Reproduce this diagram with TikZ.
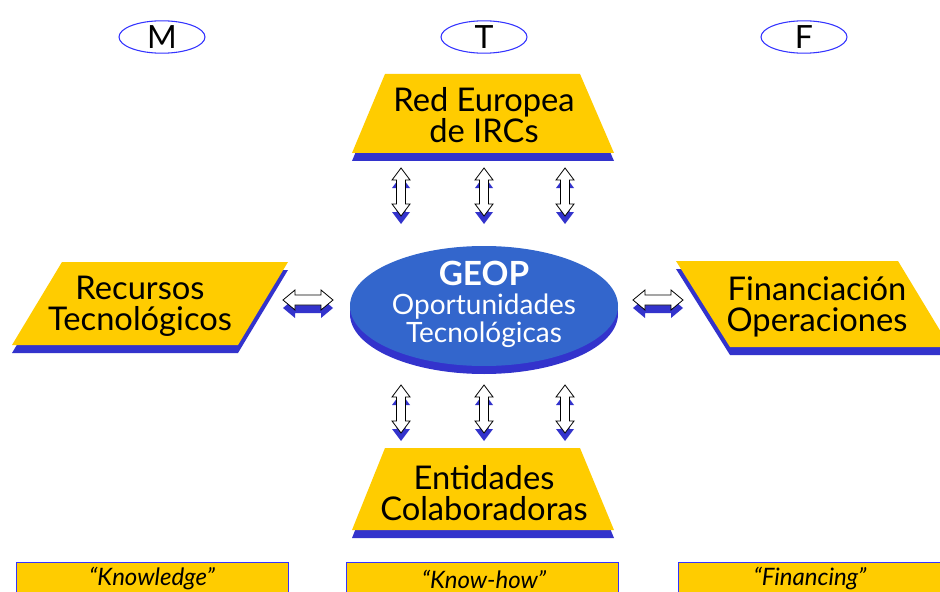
\documentclass[tikz,border=0pt]{standalone}
\usepackage{fontspec}
\setmainfont{Lato}
\usetikzlibrary{shapes.geometric}
\definecolor{geoyellow}{HTML}{FFCC00}
\definecolor{geoshadow}{HTML}{3333CC}
\definecolor{geoell}{HTML}{3366CC}
\definecolor{geooval}{HTML}{3333FF}
\newcommand\geopV[3]{% x, ytop, length
  \fill[geoshadow] (#1,#2) ++(0,8) -- ++(9,12) -- ++(-4.5,0) -- ++(0,{#3-24}) -- ++(4.5,0) -- ++(-9,12) -- ++(-9,-12) -- ++(4.5,0) -- ++(0,{24-#3}) -- ++(-4.5,0) -- cycle;
  \draw[arrw] (#1,#2) -- ++(9,12) -- ++(-4.5,0) -- ++(0,{#3-24}) -- ++(4.5,0) -- ++(-9,12) -- ++(-9,-12) -- ++(4.5,0) -- ++(0,{24-#3}) -- ++(-4.5,0) -- cycle;
}
\newcommand\geopH[3]{% xleft, y, length
  \fill[geoshadow] (#1,#2) ++(0,8) -- ++(12,-10) -- ++(0,5) -- ++({#3-24},0) -- ++(0,-5) -- ++(12,10) -- ++(-12,10) -- ++(0,-5) -- ++({24-#3},0) -- ++(0,5) -- cycle;
  \draw[arrw] (#1,#2) -- ++(12,-10) -- ++(0,5) -- ++({#3-24},0) -- ++(0,-5) -- ++(12,10) -- ++(-12,10) -- ++(0,-5) -- ++({24-#3},0) -- ++(0,5) -- cycle;
}
\begin{document}
\begin{tikzpicture}[x=0.75pt,y=-0.75pt,
  arrw/.style={draw=black, fill=white, line width=0.6pt, line join=miter},
  yel/.style={fill=geoyellow},
  shad/.style={fill=geoshadow},
  lbl/.style={font=\fontsize{24.5}{23.5}\selectfont, text=black, inner sep=0, align=center},
  ovallbl/.style={ellipse, draw=geooval, line width=0.8pt, minimum width=64.5pt, minimum height=22.5pt, inner sep=0, font=\fontsize{24}{24}\selectfont},
  quotelbl/.style={font=\fontsize{18}{18}\selectfont\itshape, inner sep=0},
  qbox/.style={fill=geoyellow, draw=geooval, line width=0.6pt}]
\useasboundingbox (0,0) rectangle (940,592);
\clip (0,0) rectangle (940,592);
\fill[white] (0,0) rectangle (940,592);

% top ovals
\node[ovallbl] (m) at (162,37) {M};
\node[ovallbl] (t) at (484,37) {T};
\node[ovallbl] (f) at (804,37) {F};

% top trapezoid
\fill[shad] (385,82) -- (580,82) -- (614,161) -- (352,161) -- cycle;
\fill[yel] (385,74) -- (580,74) -- (614,153) -- (352,153) -- cycle;
\node[lbl] (red) at (484,115) {Red Europea\\de IRCs};

% left parallelogram
\fill[shad] (62,270) -- (288,270) -- (238,353) -- (12,353) -- cycle;
\fill[yel] (62,262) -- (288,262) -- (238,345) -- (12,345) -- cycle;
\node[lbl] (rec) at (140,306) {Recursos\\Tecnológicos};

% right parallelogram
\fill[shad] (676,269) -- (898,269) -- (950,355) -- (730,355) -- cycle;
\fill[yel] (676,261) -- (898,261) -- (950,347) -- (730,347) -- cycle;
\node[lbl] (fin) at (817,307) {Financiación\\Operaciones};

% bottom trapezoid
\fill[shad] (385,456) -- (580,456) -- (614,538) -- (352,538) -- cycle;
\fill[yel] (385,448) -- (580,448) -- (614,530) -- (352,530) -- cycle;
\node[lbl] (ent) at (484,493) {Entidades\\Colaboradoras};

% centre ellipse
\fill[shad] (484,314) ellipse [x radius=134, y radius=60];
\fill[geoell] (484,306) ellipse [x radius=134, y radius=60];
\node[font=\fontsize{25}{25}\selectfont\bfseries, text=white, inner sep=0] (geop) at (484,273) {GEOP};
\node[font=\fontsize{21}{21}\selectfont, text=white, inner sep=0, align=center] (opo) at (484,321) {Oportunidades\\Tecnológicas};

% vertical double arrows
\geopV{401}{168}{48}
\geopV{484}{168}{48}
\geopV{565}{168}{48}
\geopV{401}{385}{48}
\geopV{484}{385}{48}
\geopV{565}{385}{48}

% horizontal double arrows
\geopH{283}{300}{50}
\geopH{633}{300}{50}

% bottom boxes
\draw[qbox] (16,600) -- (16,562) -- (288,562) -- (288,600);
\draw[qbox] (346,600) -- (346,562) -- (618,562) -- (618,600);
\draw[qbox] (678,600) -- (678,562) -- (950,562) -- (950,600);
\node[quotelbl] (kn) at (152,579) {“Knowledge”};
\node[quotelbl] (kh) at (484,579) {“Know-how”};
\node[quotelbl] (fi) at (810,579) {“Financing”};
\end{tikzpicture}
\end{document}
